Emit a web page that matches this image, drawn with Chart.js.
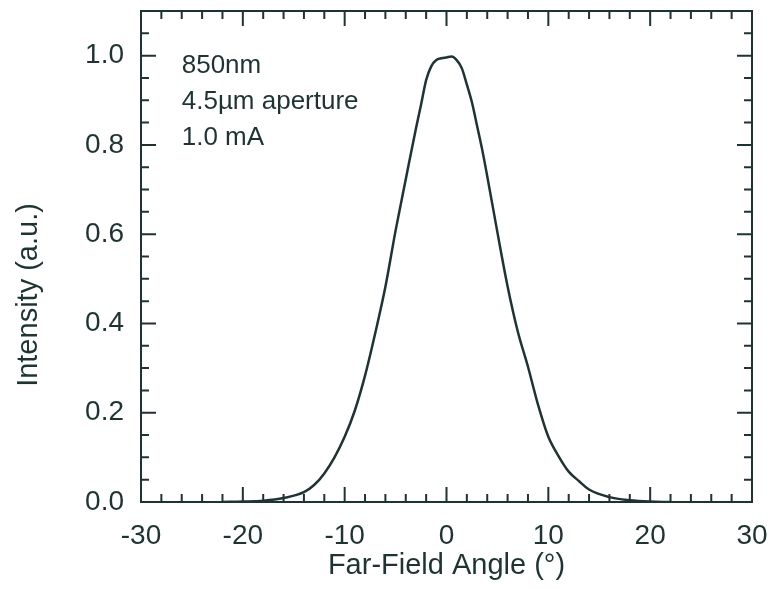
<!DOCTYPE html>
<html>
<head>
<meta charset="utf-8">
<script src="https://cdn.jsdelivr.net/npm/chart.js@4.4.0/dist/chart.umd.min.js"></script>
<style>
  body { margin: 0; background: #fff; }
</style>
</head>
<body>
<canvas id="grafico1" width="770" height="589"></canvas>
<script>
const angulos = [-22, -20, -18, -16, -14, -13, -12, -11, -10, -9, -8, -7, -6, -5, -4, -3, -2.5, -2, -1.5, -1, -0.5, 0, 0.5, 1, 1.5, 2, 2.5, 3, 3.5, 4, 5, 6, 7, 8, 9, 10, 11, 12, 13, 14, 16, 18, 20, 22]
const intensidad = [0, 0.001, 0.003, 0.009, 0.022, 0.038, 0.064, 0.1, 0.146, 0.205, 0.283, 0.378, 0.482, 0.608, 0.723, 0.837, 0.89, 0.945, 0.976, 0.99, 0.994, 0.996, 0.998, 0.99, 0.972, 0.935, 0.895, 0.843, 0.79, 0.73, 0.604, 0.483, 0.382, 0.303, 0.217, 0.146, 0.103, 0.068, 0.047, 0.028, 0.011, 0.004, 0.001, 0]
const ticksX = [-30, -20, -10, 0, 10, 20, 30]
const ticksY = [0, 0.2, 0.4, 0.6, 0.8, 1.0]
const notas = ['850nm', '4.5µm aperture', '1.0 mA']
const tituloY = 'Intensity (a.u.)'

const tinta = '#1f3333'
const fuente = 'Liberation Sans, Arial, Helvetica, sans-serif'

// marco con ticks hacia adentro en los cuatro lados + notas + titulo Y
const marco = {
  id: 'marco',
  afterDatasetsDraw(chart) {
    const {ctx, chartArea: a, scales: {x, y}} = chart
    ctx.save()
    ctx.strokeStyle = tinta
    ctx.lineWidth = 2
    ctx.strokeRect(a.left, a.top, a.right - a.left, a.bottom - a.top)
    ctx.beginPath()
    for (let v = x.min; v <= x.max; v += 2) {
      const px = x.getPixelForValue(v)
      const largo = ticksX.includes(v) ? 15 : 8
      ctx.moveTo(px, a.bottom); ctx.lineTo(px, a.bottom - largo)
      ctx.moveTo(px, a.top); ctx.lineTo(px, a.top + largo)
    }
    for (let i = 0; i * 0.05 <= y.max + 1e-9; i++) {
      const py = y.getPixelForValue(i * 0.05)
      const largo = i % 4 === 0 ? 15 : 8
      ctx.moveTo(a.left, py); ctx.lineTo(a.left + largo, py)
      ctx.moveTo(a.right, py); ctx.lineTo(a.right - largo, py)
    }
    ctx.stroke()

    ctx.fillStyle = tinta
    ctx.font = '26px ' + fuente
    ctx.textBaseline = 'alphabetic'
    notas.forEach((t, i) => ctx.fillText(t, x.getPixelForValue(-26), 73 + i * 36))

    // titulo del eje Y, algo mas abajo que el centro como en el original
    ctx.font = '29px ' + fuente
    ctx.translate(37, 295)
    ctx.rotate(-Math.PI / 2)
    ctx.textAlign = 'center'
    ctx.fillText(tituloY, 0, 0)
    ctx.restore()
  }
}

const canvas = document.getElementById('grafico1')
const grafico1 = new Chart(canvas, {
  type: 'line',
  data: {
    labels: angulos,
    datasets: [
      {
        data: angulos.map((a, i) => ({x: a, y: intensidad[i]})),
        borderColor: tinta,
        borderWidth: 2.5,
        pointRadius: 0,
        cubicInterpolationMode: 'monotone',
        fill: false,
      }
    ]
  },
  options: {
    responsive: false,
    animation: false,
    layout: { padding: { top: 11, right: 18, left: 0, bottom: 0 } },
    plugins: { legend: { display: false }, tooltip: { enabled: false } },
    scales: {
      x: {
        type: 'linear',
        min: -30,
        max: 30,
        afterFit: s => { s.height = 87; s.paddingLeft = 0; s.paddingRight = 0 },
        afterBuildTicks: s => { s.ticks = ticksX.map(v => ({value: v})) },
        grid: { display: false, drawTicks: false },
        border: { display: false },
        ticks: { color: tinta, padding: 17, maxRotation: 0, font: { family: fuente, size: 28 } },
        title: { display: true, text: 'Far-Field Angle (°)', color: tinta, padding: { bottom: 6 }, font: { family: fuente, size: 29 } }
      },
      y: {
        min: 0,
        max: 1.1,
        afterFit: s => { s.width = 141; s.paddingTop = 0; s.paddingBottom = 0 },
        afterBuildTicks: s => { s.ticks = ticksY.map(v => ({value: v})) },
        grid: { display: false, drawTicks: false },
        border: { display: false },
        ticks: { color: tinta, padding: 17, font: { family: fuente, size: 28 }, callback: v => v.toFixed(1) }
      }
    }
  },
  plugins: [marco]
})
</script>
</body>
</html>
